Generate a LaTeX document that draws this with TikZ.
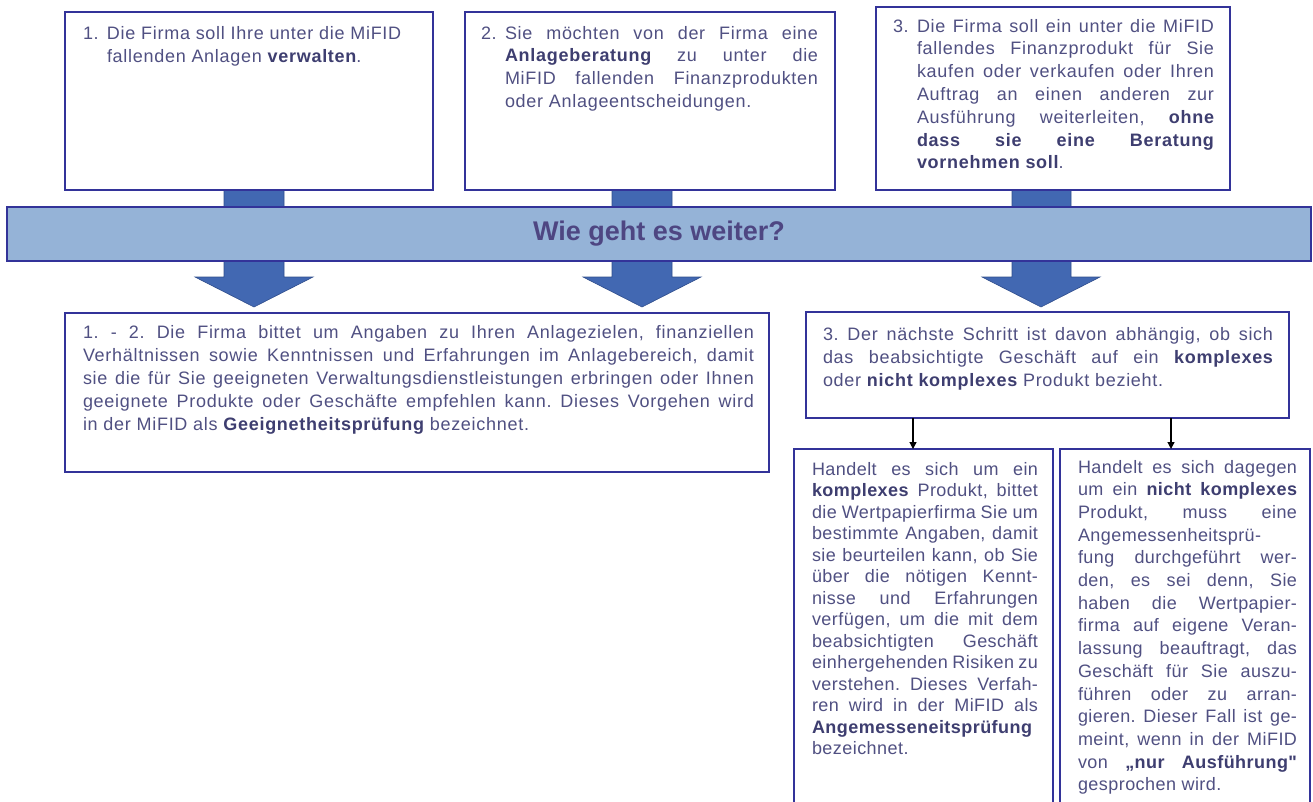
\documentclass[tikz,border=0pt]{standalone}
\usepackage{fontspec}
\setmainfont{Liberation Sans}
\newfontfamily\widefont[LetterSpace=4]{Liberation Sans}
\newfontfamily\narrowfont[LetterSpace=2.5]{Liberation Sans}
\usetikzlibrary{arrows.meta}
\definecolor{navy}{RGB}{51,51,153}
\definecolor{txt}{RGB}{80,80,130}
\definecolor{btxt}{RGB}{62,62,112}
\definecolor{bandfill}{RGB}{149,179,215}
\definecolor{arrowfill}{RGB}{66,104,178}
\definecolor{arrowedge}{RGB}{48,78,140}
\definecolor{bandtxt}{RGB}{78,70,130}
\newcommand\hs{\rule{0pt}{14pt}}
\newcommand\jl[1]{\hbox to\hsize{\hs#1}}
\newcommand\nl[1]{\hbox to\hsize{\hs#1\hfil}}
\newcommand\bt[1]{{\bfseries\color{btxt}#1}}
\newcommand\num[1]{\hbox to 24pt{#1\hfil}}
\newcommand\ind{\hskip24pt\relax}
\frenchspacing
\tikzset{
  box/.style={draw=navy, line width=2.6pt, fill=white, inner sep=0pt, outer sep=0pt, anchor=north west},
  tb/.style={inner sep=0pt, outer sep=0pt, anchor=north west, text=txt, font=\widefont\fontsize{18}{22}\selectfont\frenchspacing},
  tbn/.style={tb, font=\narrowfont\fontsize{18}{22}\selectfont\frenchspacing},
  band/.style={draw=navy, line width=2pt, fill=bandfill, inner sep=0pt, outer sep=0pt, anchor=north west, text=bandtxt, font=\fontsize{27}{30}\selectfont\bfseries},
  fat/.style={fill=arrowfill, draw=arrowedge, line width=0.6pt},
  conn/.style={draw=black, line width=1.2pt, -{Triangle[length=7pt,width=7pt]}}
}
\begin{document}
\begin{tikzpicture}[x=1pt,y=-1pt]
\useasboundingbox (0,0) rectangle (1313,801);
\clip (0,0) rectangle (1313,801);
% big arrows
\fill[fat] (224,190) -- (284,190) -- (284,277) -- (313,277) -- (254,307) -- (195,277) -- (224,277) -- cycle;
\fill[fat] (612,190) -- (672,190) -- (672,277) -- (701,277) -- (642,307) -- (583,277) -- (612,277) -- cycle;
\fill[fat] (1012,190) -- (1071,190) -- (1071,277) -- (1100,277) -- (1041,307) -- (982,277) -- (1012,277) -- cycle;
% boxes
\node[box, minimum width=368pt, minimum height=178pt] (b1) at (65,12) {};
\node[box, minimum width=370pt, minimum height=178pt] (b2) at (465,12) {};
\node[box, minimum width=354pt, minimum height=183pt] (b3) at (876,7) {};
\node[band, minimum width=1304pt, minimum height=54pt] (band) at (7,207) {Wie geht es weiter?};
\node[box, minimum width=704pt, minimum height=159pt] (b12) at (65,313) {};
\node[box, minimum width=483pt, minimum height=106pt] (b3n) at (806,312) {};
\node[box, minimum width=259pt, minimum height=370pt] (b3l) at (794,449) {};
\node[box, minimum width=250pt, minimum height=370pt] (b3r) at (1060,449) {};
% texts
\node[tb] (t1) at (83,25) {\vbox{\hsize=334pt\baselineskip=23pt
\nl{\num{1.}Die Firma soll Ihre unter die MiFID}
\nl{\ind fallenden Anlagen \bt{verwalten}.}}};
\node[tb] (t2) at (481,25) {\vbox{\hsize=337pt\baselineskip=22.7pt
\jl{\num{2.}Sie möchten von der Firma eine}
\jl{\ind\bt{Anlageberatung} zu unter die}
\jl{\ind MiFID fallenden Finanzprodukten}
\nl{\ind oder Anlageentscheidungen.}}};
\node[tb] (t3) at (893,18) {\vbox{\hsize=321pt\baselineskip=22.8pt
\jl{\num{3.}Die Firma soll ein unter die MiFID}
\jl{\ind fallendes Finanzprodukt für Sie}
\jl{\ind kaufen oder verkaufen oder Ihren}
\jl{\ind Auftrag an einen anderen zur}
\jl{\ind Ausführung weiterleiten, \bt{ohne}}
\jl{\ind\bt{dass sie eine Beratung}}
\nl{\ind\bt{vornehmen soll}.}}};
\node[tb] (t12) at (83,324) {\vbox{\hsize=671pt\baselineskip=23pt
\jl{1. - 2. Die Firma bittet um Angaben zu Ihren Anlagezielen, finanziellen}
\jl{Verhältnissen sowie Kenntnissen und Erfahrungen im Anlagebereich, damit}
\jl{sie die für Sie geeigneten Verwaltungsdienstleistungen erbringen oder Ihnen}
\jl{geeignete Produkte oder Geschäfte empfehlen kann. Dieses Vorgehen wird}
\nl{in der MiFID als \bt{Geeignetheitsprüfung} bezeichnet.}}};
\node[tb] (t3n) at (823,326) {\vbox{\hsize=450pt\baselineskip=23pt
\jl{3. Der nächste Schritt ist davon abhängig, ob sich}
\jl{das beabsichtigte Geschäft auf ein \bt{komplexes}}
\nl{oder \bt{nicht komplexes} Produkt bezieht.}}};
\node[tbn] (t3l) at (812,461) {\vbox{\hsize=226pt\baselineskip=21.5pt
\jl{Handelt es sich um ein}
\jl{\bt{komplexes} Produkt, bittet}
\jl{die Wertpapierfirma Sie um}
\jl{bestimmte Angaben, damit}
\jl{sie beurteilen kann, ob Sie}
\jl{über die nötigen Kennt-}
\jl{nisse und Erfahrungen}
\jl{verfügen, um die mit dem}
\jl{beabsichtigten Geschäft}
\jl{einhergehenden Risiken zu}
\jl{verstehen. Dieses Verfah-}
\jl{ren wird in der MiFID als}
\nl{\bt{Angemesseneitsprüfung}}
\nl{bezeichnet.}}};
\node[tbn] (t3r) at (1078,459) {\vbox{\hsize=219pt\baselineskip=22.7pt
\jl{Handelt es sich dagegen}
\jl{um ein \bt{nicht komplexes}}
\jl{Produkt, muss eine}
\nl{Angemessenheitsprü-}
\jl{fung durchgeführt wer-}
\jl{den, es sei denn, Sie}
\jl{haben die Wertpapier-}
\jl{firma auf eigene Veran-}
\jl{lassung beauftragt, das}
\jl{Geschäft für Sie auszu-}
\jl{führen oder zu arran-}
\jl{gieren. Dieser Fall ist ge-}
\jl{meint, wenn in der MiFID}
\jl{von \bt{„nur Ausführung"}}
\nl{gesprochen wird.}}};
% connectors
\coordinate (k1) at (913,418);
\coordinate (k2) at (1171,418);
\draw[conn] (k1) -- (k1 |- b3l.north);
\draw[conn] (k2) -- (k2 |- b3r.north);
\end{tikzpicture}
\end{document}
